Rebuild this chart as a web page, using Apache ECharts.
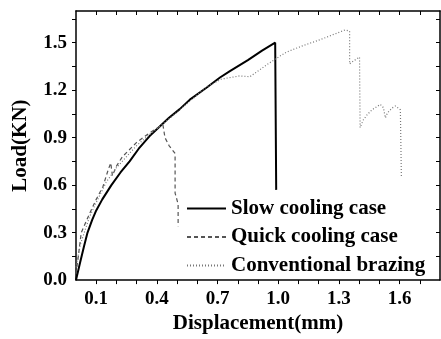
<!DOCTYPE html>
<html>
<head>
<meta charset="utf-8">
<script src="https://cdn.jsdelivr.net/npm/echarts@6/dist/echarts.min.js"></script>
<style>
  html, body { margin: 0; padding: 0; background: #fff; }
  #chart { width: 441px; height: 339px; }
</style>
</head>
<body>
<div id="chart"></div>
<script>
// displacement (mm) / load (KN)
const slowX = [0, 0.02, 0.04, 0.057, 0.08, 0.1, 0.13, 0.175, 0.22, 0.265, 0.31, 0.364, 0.414, 0.46, 0.513, 0.563, 0.65, 0.712, 0.761, 0.85, 0.92, 0.985, 0.99]
const slowY = [0, 0.11, 0.215, 0.30, 0.38, 0.44, 0.51, 0.60, 0.68, 0.75, 0.83, 0.91, 0.97, 1.025, 1.08, 1.14, 1.22, 1.28, 1.32, 1.39, 1.45, 1.50, 0.57]

const quickX = [0, 0.01, 0.026, 0.067, 0.1, 0.133, 0.16, 0.172, 0.18, 0.2, 0.23, 0.3, 0.364, 0.414, 0.43, 0.44, 0.46, 0.49, 0.49, 0.505, 0.505]
const quickY = [0.04, 0.135, 0.30, 0.42, 0.51, 0.59, 0.70, 0.74, 0.66, 0.72, 0.78, 0.87, 0.93, 0.97, 0.98, 0.90, 0.85, 0.80, 0.55, 0.48, 0.34]

const convX = [0, 0.02, 0.067, 0.1, 0.15, 0.2, 0.25, 0.3, 0.364, 0.414, 0.48, 0.563, 0.645, 0.72, 0.81, 0.86, 0.943, 0.99, 1.04, 1.12, 1.21, 1.31, 1.33, 1.353, 1.353, 1.375, 1.402, 1.405, 1.42, 1.44, 1.464, 1.505, 1.52, 1.53, 1.54, 1.563, 1.58, 1.604, 1.609]
const convY = [0.08, 0.22, 0.40, 0.49, 0.62, 0.71, 0.78, 0.85, 0.92, 0.97, 1.04, 1.13, 1.22, 1.27, 1.29, 1.285, 1.36, 1.40, 1.44, 1.48, 1.52, 1.57, 1.58, 1.573, 1.366, 1.387, 1.408, 0.963, 1.01, 1.045, 1.076, 1.11, 1.09, 1.025, 1.056, 1.087, 1.10, 1.076, 0.65]

const xLabels = [0.1, 0.4, 0.7, 1.0, 1.3, 1.6]
const xTicks = [0.1, 0.2, 0.3, 0.4, 0.5, 0.6, 0.7, 0.8, 0.9, 1.0, 1.1, 1.2, 1.3, 1.4, 1.5, 1.6, 1.7]
const yLabels = [0, 0.3, 0.6, 0.9, 1.2, 1.5]
const yTicks = [0.15, 0.3, 0.45, 0.6, 0.75, 0.9, 1.05, 1.2, 1.35, 1.5, 1.65]

const zip = (xs, ys) => xs.map((x, i) => [x, ys[i]])

const font = 'Liberation Serif, Times New Roman, serif'
const axisLine = { show: true, onZero: false, lineStyle: { color: '#000', width: 1.5 } }

const chart = echarts.init(document.getElementById('chart'))
chart.setOption({
  animation: false,
  grid: { left: 76, right: 1, top: 11, bottom: 54 },
  legend: {
    orient: 'vertical',
    left: 186,
    top: 198,
    padding: 0,
    itemWidth: 39,
    itemHeight: 10,
    itemGap: 7.5,
    itemStyle: { opacity: 0 },
    textStyle: { fontFamily: font, fontWeight: 'bold', fontSize: 21, color: '#000', lineHeight: 20 },
    data: ['Slow cooling case', 'Quick cooling case', 'Conventional brazing']
  },
  xAxis: [
    {
      type: 'value', min: 0, max: 1.8,
      name: 'Displacement(mm)', nameLocation: 'middle', nameGap: 32,
      nameTextStyle: { fontFamily: font, fontWeight: 'bold', fontSize: 21, color: '#000' },
      axisLine,
      axisTick: { show: true, customValues: xTicks, length: 4, lineStyle: { color: '#000' } },
      axisLabel: {
        customValues: xLabels, margin: 9,
        fontFamily: font, fontWeight: 'bold', fontSize: 19, color: '#000',
        formatter: v => v.toFixed(1)
      },
      splitLine: { show: false }
    },
    {
      type: 'value', min: 0, max: 1.8, position: 'top',
      axisLine,
      axisTick: { show: true, inside: true, customValues: xTicks, length: 4, lineStyle: { color: '#000' } },
      axisLabel: { show: false },
      splitLine: { show: false }
    }
  ],
  yAxis: [
    {
      type: 'value', min: 0, max: 1.7,
      name: 'Load(KN)', nameLocation: 'middle', nameGap: 45,
      nameTextStyle: { fontFamily: font, fontWeight: 'bold', fontSize: 21, color: '#000' },
      axisLine,
      axisTick: { show: true, customValues: yTicks, length: 4, lineStyle: { color: '#000' } },
      axisLabel: {
        customValues: yLabels, margin: 9,
        fontFamily: font, fontWeight: 'bold', fontSize: 19, color: '#000',
        formatter: v => v.toFixed(1)
      },
      splitLine: { show: false }
    },
    {
      type: 'value', min: 0, max: 1.7, position: 'right',
      axisLine,
      axisTick: { show: true, inside: true, customValues: yTicks, length: 4, lineStyle: { color: '#000' } },
      axisLabel: { show: false },
      splitLine: { show: false }
    }
  ],
  series: [
    {
      name: 'Slow cooling case', type: 'line', symbol: 'none',
      data: zip(slowX, slowY),
      lineStyle: { color: '#000', width: 2 }, itemStyle: { color: '#000' }
    },
    {
      name: 'Quick cooling case', type: 'line', symbol: 'none',
      data: zip(quickX, quickY),
      lineStyle: { color: '#555', width: 1.2, type: [4, 3] }, itemStyle: { color: '#555' }
    },
    {
      name: 'Conventional brazing', type: 'line', symbol: 'none',
      data: zip(convX, convY),
      lineStyle: { color: '#777', width: 1.2, type: [1, 2] }, itemStyle: { color: '#777' }
    }
  ]
})
</script>
</body>
</html>
